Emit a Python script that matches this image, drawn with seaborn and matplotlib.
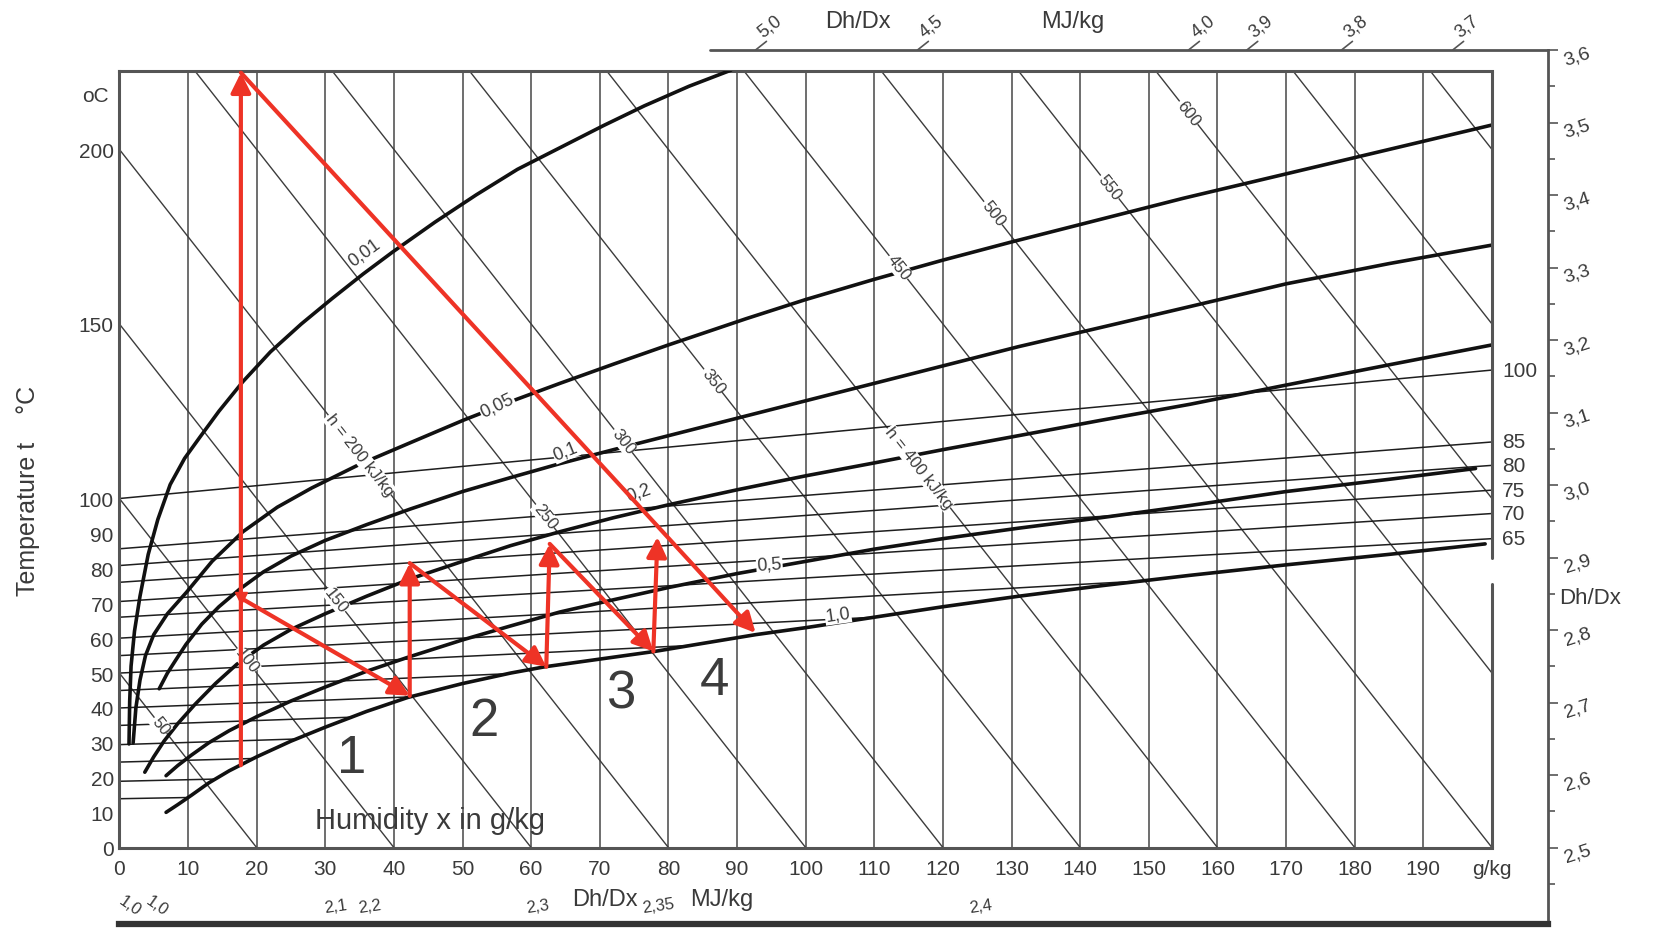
import numpy as np
import pandas as pd
import matplotlib
matplotlib.use("Agg")
import matplotlib.pyplot as plt
from matplotlib.patches import Polygon
import seaborn as sns

# axes
x_ticks = list(range(0, 200, 10))
y_ticks = [0, 10, 20, 30, 40, 50, 60, 70, 80, 90, 100, 150, 200]
t_max = 222.5

# enthalpy lines: temperature where they leave x = 0, humidity where they reach t = 0
h_left = [50, 100, 150, 200, 250, 300, 350, 400, 450, 500, 550, 600, 650, 700, 750]
h_foot = [20, 40, 60, 80, 100, 120, 140, 160, 180, 200, 220, 240, 260, 280, 300]
h_labels = ["50", "100", "150", "h = 200 kJ/kg", "250", "300", "350",
            "h = 400 kJ/kg", "450", "500", "550", "600", None, None, None]
h_label_x = [6.0, 18.5, 31.6, 35.0, 62.0, 73.4, 86.5, 116.5, 113.5, 127.3, 144.3, 155.8, None, None, None]

# relative humidity curves (x g/kg, t °C)
phi_names = ["0,01", "0,05", "0,1", "0,2", "0,5", "1,0"]
phi_x = [
    [1.4, 1.5, 1.7, 2.2, 3.0, 4.2, 5.6, 7.4, 9.5, 11.7, 14.5, 18, 22, 26.5, 31, 35.5,
     39.8, 46, 52, 58, 64.2, 70.5, 76.5, 83, 89.1],
    [2.0, 2.4, 3.0, 3.8, 5.0, 7.0, 9.8, 13.5, 18, 23, 28, 35, 42.4, 50.2, 58, 64.2, 72,
     80, 91.3, 100, 110, 120, 130, 143, 155, 170, 185, 200],
    [5.8, 7.0, 8.3, 9.7, 12, 14.5, 17.5, 21, 25, 30, 36, 42.4, 50, 57, 64.2, 72, 80, 90,
     100, 110, 120, 131, 143, 156, 170, 185, 200],
    [3.7, 5.0, 6.5, 8.5, 11, 14, 17.1, 21, 25, 30, 36, 42.4, 50, 57, 64.2, 72, 80, 90,
     100, 110, 120, 131, 143, 156, 170, 185, 200],
    [6.8, 8.5, 10.5, 13, 16, 20, 25, 30, 36, 42, 50, 57, 64.2, 72, 80, 90, 100, 110,
     120, 131, 143, 156, 170, 185, 197.6],
    [6.8, 8.5, 10.5, 13, 16, 20, 25, 30, 36, 42, 50, 57, 62, 70, 78, 85, 92.7, 100, 110,
     120, 131, 143, 156, 170, 185, 199],
]
phi_t = [
    [29.7, 42, 52, 62, 72, 84, 94, 104, 111.5, 117.5, 125, 133.5, 142, 150, 157.3, 164.3,
     170.6, 179.2, 187, 194.3, 200.5, 206.8, 212.5, 218.1, 222.7],
    [30, 40, 48, 55, 61, 67, 73.2, 82, 90.5, 97.5, 103, 109.8, 116, 122.5, 128.5, 133, 138.5,
     144, 151.5, 157, 162.8, 168.3, 173.5, 180, 186, 193, 200, 207],
    [45.5, 50, 54, 58.2, 64, 69, 74, 79, 83.5, 88, 92.5, 97, 102, 106, 110, 114, 118, 123,
     128, 133, 138, 143.5, 149, 155, 161.5, 167.3, 172.6],
    [21.6, 26, 30.5, 35.5, 41, 47, 52.5, 58, 62.5, 67, 72, 77, 82, 86.5, 90.5, 94.5, 98.2,
     102.5, 106.5, 110.2, 114, 118, 122.4, 127, 132.5, 138.3, 144],
    [20.6, 23.5, 26.5, 30, 33.5, 37.5, 42, 46, 50.5, 54.5, 59.5, 63.5, 67.5, 71, 74.5, 78.5,
     82, 85.5, 88.5, 91.5, 94.5, 98, 102, 105.5, 108.6],
    [10.1, 12.3, 15, 18.5, 22, 26, 30.5, 34.5, 39, 43, 47, 50, 51.8, 54, 56.2, 58.5, 61, 63,
     66, 69, 72, 75, 78, 81, 84, 87],
]
phi_label_x = [35.7, 55.0, 65.0, 75.7, 94.7, 104.7]
phi_label_t = [170.6, 126.7, 113.6, 101.8, 81.2, 66.7]
phi_label_rot = [36, 26, 22, 20, 4, 8]

# thin lines: value, temperature at x = 0 and at x = 200
wb_vals = [15, 20, 25, 30, 35, 40, 45, 50, 55, 60, 65, 70, 75, 80, 85, 100]
wb_left = [14, 19, 24.5, 29.5, 35, 40, 45, 50, 55, 60, 66, 70.5, 76, 80.8, 85.6, 100]
wb_right = [21, 28, 35, 42, 49, 55, 62, 69, 75, 82, 88.5, 95.7, 102.4, 109.5, 116.2, 136.8]
wb_labelled = ["65", "70", "75", "80", "85", "100"]

# drying path (red)
path_x = [17.7, 17.7, 92.7]
path_t = [23.6, 222.0, 61.5]
steps_x = [17.7, 42.3, 42.3, 62.2, 62.7, 77.8, 78.4]
steps_t = [71.5, 43.5, 81.5, 51.8, 87.0, 56.2, 89.0]
stage_names = ["1", "2", "3", "4"]
stage_x = [33.9, 53.1, 73.0, 86.7]
stage_t = [25.8, 36.4, 44.2, 47.9]

# edge scales Dh/Dx (MJ/kg)
right_scale = [2.5, 2.6, 2.7, 2.8, 2.9, 3.0, 3.1, 3.2, 3.3, 3.4, 3.5, 3.6]
top_scale = ["5,0", "4,5", "4,0", "3,9", "3,8", "3,7"]
top_scale_x = [92.7, 116.3, 155.8, 164.3, 178.1, 194.3]
bottom_scale = ["1,0", "1,0", "2,1", "2,2", "2,3", "2,35", "2,4"]
bottom_scale_x = [1.5, 5.5, 31.5, 36.5, 61.0, 78.5, 125.5]

sns.set_theme(style="white")
plt.rcParams["font.family"] = ["Liberation Sans", "DejaVu Sans"]
TXT = "#3a3a3a"
RED = "#ee3326"

fig = plt.figure(figsize=(16.57, 9.29), dpi=100)
W, H = 1657, 929
ax2 = fig.add_axes([119.4 / W, (H - 925) / H, (1548 - 119.4) / W, (925 - 50.7) / H])
ax = fig.add_axes([119.4 / W, (H - 848.6) / H, (1492 - 119.4) / W, (848.6 - 71.9) / H])
ax.set_zorder(3)
ax.patch.set_alpha(0)

ax.set_xlim(0, 200)
ax.set_ylim(0, t_max)

# vertical grid
for gx in x_ticks[1:]:
    ax.axvline(gx, color="#6e6e6e", lw=1.4, zorder=1)

# enthalpy lines
for hl, hf in zip(h_left, h_foot):
    sns.lineplot(x=[0, hf], y=[hl, 0], ax=ax, color="#3c3c3c", lw=1.0, zorder=2)

# thin lines, clipped above the saturation curve
sat = list(zip(phi_x[-1], phi_t[-1]))
clip_poly = Polygon([(0, 0)] + sat + [(200, 87.2), (200, 300), (0, 300)],
                    closed=True, transform=ax.transData, fc="none", ec="none")
ax.add_patch(clip_poly)
for v, l, r in zip(wb_vals, wb_left, wb_right):
    ln, = ax.plot([0, 200], [l, r], color="#1e1e1e", lw=1.1, zorder=2)
    ln.set_clip_path(clip_poly)
    if str(v) in wb_labelled:
        ax.text(201.5, r, str(v), fontsize=15, color=TXT, va="center", ha="left", clip_on=False)

# relative humidity curves
for xs, ts in zip(phi_x, phi_t):
    sns.lineplot(x=xs, y=ts, ax=ax, color="#111111", lw=2.6, sort=False,
                 estimator=None, zorder=3)

fig.canvas.draw()
p0 = ax.transData.transform((0, 0))
p1 = ax.transData.transform((1, -2.5))
h_rot = np.degrees(np.arctan2(p1[1] - p0[1], p1[0] - p0[0]))

for lab, lx, hl, hf in zip(h_labels, h_label_x, h_left, h_foot):
    if lab is None:
        continue
    ly = hl * (1 - lx / hf)
    ax.text(lx, ly, lab, rotation=h_rot, rotation_mode="anchor", ha="center", va="center",
            fontsize=12, color=TXT, zorder=4,
            bbox=dict(fc="white", ec="none", pad=0.5))

for name, lx, lt, rot in zip(phi_names, phi_label_x, phi_label_t, phi_label_rot):
    ax.text(lx, lt, name, rotation=rot, rotation_mode="anchor", ha="center", va="center",
            fontsize=13, color=TXT, zorder=4, bbox=dict(fc="white", ec="none", pad=0.5))

# red process path
arrow = dict(arrowstyle="-|>", color=RED, lw=3, mutation_scale=30, shrinkA=0, shrinkB=0)
for i in range(len(path_x) - 1):
    ax.annotate("", xy=(path_x[i + 1], path_t[i + 1]), xytext=(path_x[i], path_t[i]),
                arrowprops=arrow, zorder=6, annotation_clip=False)
for i in range(len(steps_x) - 1):
    ax.annotate("", xy=(steps_x[i + 1], steps_t[i + 1]), xytext=(steps_x[i], steps_t[i]),
                arrowprops=arrow, zorder=6)
ax.plot(steps_x[0], steps_t[0], marker="v", color=RED, ms=9, zorder=6)

for name, sx, st in zip(stage_names, stage_x, stage_t):
    ax.text(sx, st, name, fontsize=38, color="#3c3c3c", ha="center", va="center", zorder=4)

ax.text(45.3, 7.9, "Humidity x in g/kg", fontsize=21, color=TXT, ha="center", va="center", zorder=4)

# axes styling
ax.set_xticks(x_ticks + [200])
ax.set_xticklabels([str(v) for v in x_ticks] + ["g/kg"])
ax.set_yticks(y_ticks)
ax.tick_params(axis="x", length=0, pad=8, labelsize=15, labelcolor=TXT)
ax.tick_params(axis="y", direction="in", length=9, width=1.3, color="#555555",
               pad=4, labelsize=15, labelcolor=TXT)
for side in ["left", "top", "bottom"]:
    ax.spines[side].set_color("#555555")
    ax.spines[side].set_linewidth(2.2)
ax.spines["right"].set_visible(False)
ax.plot([200, 200], [0, 75.5], color="#555555", lw=2.2, clip_on=False, zorder=3)
ax.plot([200, 200], [83, t_max], color="#555555", lw=2.2, clip_on=False, zorder=3)
ax.set_ylabel("Temperature t    °C", fontsize=18, color=TXT)
ax.yaxis.set_label_coords(-0.058, 0.46)
ax.text(-3.5, 215.5, "oC", fontsize=15, color=TXT, ha="center", va="center")

# outer frame with Dh/Dx scales
ax2.set_xlim(0, 208.2)
ax2.set_ylim(2.3946, 3.6005)
ax2.patch.set_alpha(0)
ax2.set_xticks([])
ax2.yaxis.tick_right()
ax2.set_yticks(right_scale)
ax2.set_yticklabels([f"{v:.1f}".replace(".", ",") for v in right_scale], rotation=18)
ax2.set_yticks(np.arange(2.45, 3.6, 0.1), minor=True)
ax2.tick_params(axis="y", which="major", direction="out", length=7, width=1.2,
                color="#555555", labelsize=14, labelcolor=TXT, pad=3)
ax2.tick_params(axis="y", which="minor", direction="out", length=5, width=1.2, color="#555555")
ax2.spines["left"].set_visible(False)
ax2.spines["top"].set_visible(False)
ax2.spines["right"].set_color("#555555")
ax2.spines["right"].set_linewidth(2.0)
ax2.spines["bottom"].set_color("#333333")
ax2.spines["bottom"].set_linewidth(4.5)
ax2.plot([86.1, 208.2], [3.6, 3.6], color="#555555", lw=2.0, clip_on=False)
for lab, tx in zip(top_scale, top_scale_x):
    ax2.plot([tx, tx + 1.6], [3.6, 3.612], color="#555555", lw=1.2, clip_on=False)
    ax2.text(tx + 1.4, 3.614, lab, rotation=38, fontsize=13, color=TXT,
             ha="left", va="bottom", rotation_mode="anchor", clip_on=False)
ax2.text(107.6, 3.64, "Dh/Dx", fontsize=17, color=TXT, ha="center", va="center")
ax2.text(139.0, 3.64, "MJ/kg", fontsize=17, color=TXT, ha="center", va="center")
ax2.text(209.8, 2.845, "Dh/Dx", fontsize=16, color=TXT, ha="left", va="center", clip_on=False)
for lab, bx in zip(bottom_scale, bottom_scale_x):
    ax2.text(bx, 2.42, lab, rotation=-35 if lab == "1,0" else 8, fontsize=12,
             color=TXT, ha="center", va="center")
ax2.text(70.7, 2.4286, "Dh/Dx", fontsize=17, color=TXT, ha="center", va="center")
ax2.text(87.8, 2.4286, "MJ/kg", fontsize=17, color=TXT, ha="center", va="center")

fig.savefig("out.png", dpi=100)
